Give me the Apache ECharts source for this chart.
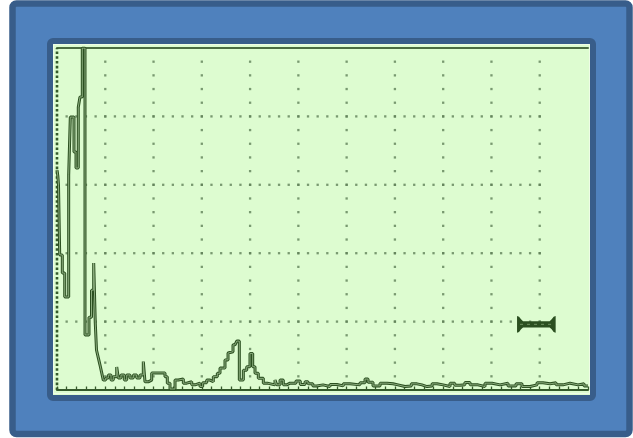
<!DOCTYPE html>
<html>
<head>
<meta charset="utf-8">
<script src="https://cdn.jsdelivr.net/npm/echarts@6/dist/echarts.min.js"></script>
<style>
  html, body { margin: 0; padding: 0; background: #ffffff; }
  #chart { width: 633px; height: 438px; }
</style>
</head>
<body>
<div id="chart"></div>
<script>
// A-scan trace: sound path position (screen divisions x10) and echo amplitude (% screen height)
const traceX = [
  0, 0.17, 0.31, 0.56, 1.10, 1.60, 2.42, 2.76, 3.52, 3.94,
  4.41, 4.76, 5.24, 5.80, 6.63, 7.15, 7.60, 7.93, 8.18, 8.56,
  8.91, 9.22, 9.59, 10.09, 10.63, 11.19, 11.66, 12.37, 12.70, 13.26,
  13.94, 14.44, 15.12, 15.81, 16.51, 17.20, 17.88, 18.23, 18.91, 19.62,
  22.37, 22.85, 23.41, 24.45, 25.13, 26.17, 26.87, 27.91, 28.59, 29.63,
  30.18, 31.01, 31.70, 32.38, 33.21, 33.77, 34.80, 35.43, 35.84, 36.46,
  36.88, 37.23, 37.77, 38.60, 39.30, 39.98, 40.54, 41.02, 41.70, 42.74,
  43.57, 45.16, 45.51, 46.20, 46.88, 47.59, 48.27, 49.50, 50.40, 51.38,
  52.00, 53.00, 53.80, 55.11, 56.56, 58.00, 59.30, 60.70, 62.77, 63.81,
  64.43, 65.46, 66.92, 68.37, 69.61, 70.64, 72.09, 73.40, 74.58, 75.60,
  76.65, 77.70, 78.72, 80.00, 81.42, 82.40, 83.49, 84.50, 85.56, 87.22,
  88.67, 90.12, 91.78, 93.43, 95.09, 96.33, 97.99, 99.44, 100.68, 102.13,
  103.38, 104.82, 106.28, 107.94, 109.18, 110
];
const traceY = [
  64.3, 62.6, 59.9, 39.5, 34.2, 27.2, 62.9, 79.8, 69.6, 64.9,
  82.7, 85.7, 100, 16.1, 21.3, 29.2, 37.1, 19.6, 11.7, 9.4,
  7.3, 5.3, 2.9, 3.5, 4.4, 2.9, 3.9, 6.7, 3.5, 4.4,
  2.9, 4.4, 3.5, 4.4, 3.5, 4.4, 8.3, 2.4, 2.9, 5.0,
  3.9, 2.0, 0.3, 2.9, 3.2, 2.0, 2.4, 1.5, 2.0, 1.0,
  2.1, 2.9, 2.4, 3.9, 4.9, 6.4, 8.8, 10.8, 11.2, 13.2,
  13.7, 14.3, 2.9, 5.8, 6.8, 10.7, 6.8, 4.9, 3.4, 2.0,
  1.5, 2.9, 1.5, 2.9, 1.5, 2.0, 2.0, 2.6, 1.6, 2.4,
  1.8, 1.2, 1.5, 1.0, 1.6, 1.2, 1.8, 1.5, 2.1, 3.2,
  2.3, 1.2, 2.0, 1.8, 1.5, 1.0, 1.2, 1.8, 1.5, 1.0,
  1.2, 1.8, 1.5, 1.0, 2.0, 1.4, 1.5, 2.2, 1.5, 1.0,
  2.0, 1.5, 2.0, 1.2, 1.8, 1.0, 1.5, 2.1, 1.8, 2.1,
  1.5, 2.0, 1.5, 1.8, 1.2, 1.2
];

// Evaluation gate: start, end and threshold level
const gateStart = 95.3;
const gateEnd = 103.3;
const gateLevel = 19.2;

// Screen divisions
const majorX = [10, 20, 30, 40, 50, 60, 70, 80, 90, 100];
const majorY = [20, 40, 60, 80];
const xMax = 110;
const yMax = 100;

// Dotted graticule: dots along the vertical and horizontal division lines
const graticule = [];
majorX.forEach(function (x) {
  for (let y = 4; y < yMax; y += 4) graticule.push([x, y]);
});
majorY.forEach(function (y) {
  for (let x = 2; x <= 100; x += 2) graticule.push([x, y]);
});

const trace = traceX.map(function (x, i) { return [x, traceY[i]]; });

const INK = '#2b4f20';
const AXIS = '#355a2b';

const chart = echarts.init(document.getElementById('chart'), null, { renderer: 'canvas' });

chart.setOption({
  animation: false,
  backgroundColor: '#ffffff',
  graphic: [
    {
      type: 'rect', z: -10,
      shape: { x: 12.5, y: 3.5, width: 617, height: 430.5, r: 4 },
      style: { fill: '#4f81bd', stroke: '#385d8a', lineWidth: 6.5 }
    },
    {
      type: 'rect', z: -9,
      shape: { x: 50, y: 41, width: 543, height: 357, r: 3 },
      style: { fill: '#ddfcd0', stroke: '#385d8a', lineWidth: 6 }
    },
    {
      type: 'rect', z: -8,
      shape: { x: 53.5, y: 44.5, width: 536, height: 349 },
      style: { fill: 'none', stroke: '#eefde6', lineWidth: 1 }
    }
  ],
  grid: { left: 57, top: 48, width: 531, height: 342, containLabel: false },
  xAxis: [
    {
      type: 'value', min: 0, max: xMax, interval: 2, position: 'bottom',
      axisLine: { show: true, onZero: false, lineStyle: { color: AXIS, width: 2 } },
      axisTick: { show: true, inside: true, length: 3.5, lineStyle: { color: AXIS, width: 1.3 } },
      axisLabel: { show: false },
      splitLine: { show: false }
    },
    {
      type: 'value', min: 0, max: xMax, interval: 10, position: 'top',
      axisLine: { show: true, onZero: false, lineStyle: { color: '#4b6c42', width: 2 } },
      axisTick: { show: false },
      axisLabel: { show: false },
      splitLine: { show: false }
    }
  ],
  yAxis: {
    type: 'value', min: 0, max: yMax, position: 'left',
    axisLine: { show: false },
    axisTick: { show: false },
    axisLabel: { show: false },
    splitLine: { show: false }
  },
  series: [
    {
      type: 'scatter', silent: true, z: 1,
      data: graticule,
      symbol: 'rect', symbolSize: 2.3,
      itemStyle: { color: '#5f7f58' }
    },
    {
      // dashed left edge of the screen
      type: 'line', silent: true, z: 2,
      data: [[0, 0], [0, yMax]], symbol: 'none', clip: false,
      lineStyle: { color: AXIS, width: 2.6, type: [2.6, 2.2] }
    },
    {
      type: 'line', silent: true, z: 3,
      data: trace, step: 'end', symbol: 'none', clip: true,
      lineStyle: { color: INK, width: 3, join: 'bevel' }
    },
    {
      type: 'line', silent: true, z: 4,
      data: trace, step: 'end', symbol: 'none', clip: true,
      lineStyle: { color: '#96b889', width: 0.9 }
    },
    {
      type: 'custom', silent: true, z: 5,
      data: [[gateStart, gateEnd, gateLevel]],
      renderItem: function (params, api) {
        const a = api.coord([api.value(0), api.value(2)]);
        const b = api.coord([api.value(1), api.value(2)]);
        const x0 = a[0], x1 = b[0], y = a[1];
        const H = 8.4, T = 3.1;
        const pts = [
          [x0, y - H], [x0 + 2, y - H + 0.8], [x0 + 4, y - 5], [x0 + 6, y - T],
          [x1 - 6, y - T], [x1 - 4, y - 5], [x1 - 2, y - H + 0.8], [x1, y - H],
          [x1, y + H], [x1 - 2, y + H - 0.8], [x1 - 4, y + 5], [x1 - 6, y + T],
          [x0 + 6, y + T], [x0 + 4, y + 5], [x0 + 2, y + H - 0.8], [x0, y + H]
        ];
        return {
          type: 'group',
          children: [
            { type: 'polygon', shape: { points: pts }, style: { fill: INK } },
            {
              type: 'line',
              shape: { x1: x0 + 3, y1: y, x2: x1 - 3, y2: y },
              style: { stroke: '#6f9262', lineWidth: 1, lineDash: [3, 4] }
            }
          ]
        };
      }
    }
  ]
});
</script>
</body>
</html>
